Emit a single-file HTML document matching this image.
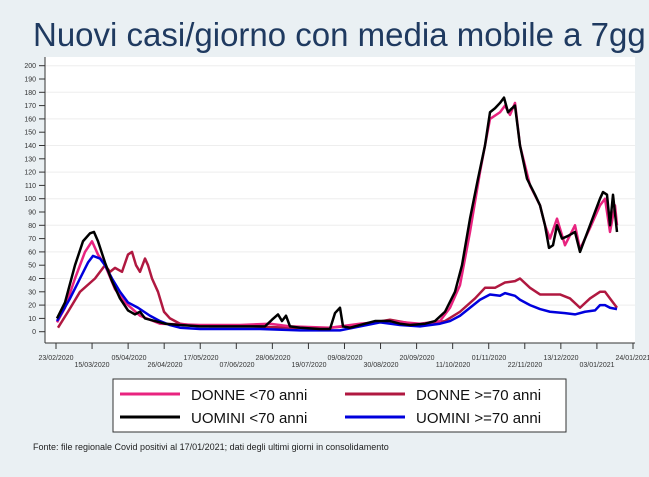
<!DOCTYPE html>
<html><head><meta charset="utf-8"><style>
body{margin:0;width:649px;height:472px;background:#eaf0f3;overflow:hidden;font-family:"Liberation Sans",sans-serif;}
</style></head><body>
<svg width="649" height="472" xmlns="http://www.w3.org/2000/svg" font-family="Liberation Sans, sans-serif">
<text x="33" y="46" font-size="33" fill="#1f3a60">Nuovi casi/giorno con media mobile a 7gg</text>
<rect x="45" y="57" width="590" height="286" fill="#fff"/>
<g stroke="#eeeeee" stroke-width="1">
<line x1="45" x2="635" y1="65.7" y2="65.7"/><line x1="45" x2="635" y1="92.3" y2="92.3"/><line x1="45" x2="635" y1="118.9" y2="118.9"/><line x1="45" x2="635" y1="145.5" y2="145.5"/><line x1="45" x2="635" y1="172.1" y2="172.1"/><line x1="45" x2="635" y1="198.7" y2="198.7"/><line x1="45" x2="635" y1="225.3" y2="225.3"/><line x1="45" x2="635" y1="251.9" y2="251.9"/><line x1="45" x2="635" y1="278.5" y2="278.5"/><line x1="45" x2="635" y1="305.1" y2="305.1"/>
</g>
<g stroke="#333" stroke-width="1">
<line x1="45" y1="57" x2="45" y2="343"/>
<line x1="45" y1="343" x2="635" y2="343"/>
</g>
<g font-size="7" fill="#333" text-anchor="end" id="yl"></g>
<g transform="translate(0,331.7) scale(1,-1.33)" fill="none" stroke-linejoin="round">
<polyline vector-effect="non-scaling-stroke" stroke="#b01840" stroke-width="2.5" points="58,3 68,15 80,30 95,40 105,50 110,45 115,48 122,45 128,58 132,60 136,50 140,45 145,55 148,50 152,40 158,30 164,15 170,10 180,6 190,5 210,4 250,4 290,3 330,3 360,5 390,9 420,5 445,8 460,15 475,25 485,33 495,33 505,37 515,38 520,40 530,33 540,28 560,28 570,25 580,18 590,25 600,30 605,30 610,25 617,18"/>
<polyline vector-effect="non-scaling-stroke" stroke="#e8237f" stroke-width="2.5" points="57,7 65,18 75,40 85,60 92,68 98,58 105,50 115,32 125,22 140,12 160,6 200,5 240,5 270,6 290,4 330,3 360,6 390,8 420,6 440,8 450,18 460,35 470,75 480,120 490,160 500,165 505,170 510,163 515,172 520,140 530,110 540,95 545,80 550,70 557,85 565,65 575,80 580,62 590,78 600,95 605,100 610,75 615,95 617,80"/>
<polyline vector-effect="non-scaling-stroke" stroke="#0000dd" stroke-width="2.5" points="57,8 70,25 80,40 88,52 93,57 100,55 105,50 112,40 120,30 128,22 138,18 150,12 160,8 170,5 180,3 200,2 260,2 300,1 340,1 360,4 380,7 400,5 420,4 440,6 450,8 460,12 470,18 480,24 490,28 500,27 505,29 515,27 520,24 530,20 540,17 550,15 565,14 575,13 585,15 595,16 600,20 605,20 610,18 617,17"/>
<polyline vector-effect="non-scaling-stroke" stroke="#000" stroke-width="2.5" points="57,10 65,22 75,50 83,68 90,74 94,75 98,68 105,52 112,38 120,25 128,16 135,13 140,15 145,10 155,8 165,6 180,5 200,4 240,4 265,4 272,9 278,13 282,8 286,12 290,4 300,3 320,2 330,2 335,14 340,18 343,4 350,3 365,6 375,8 390,8 400,6 410,5 425,6 435,8 445,15 455,30 462,50 470,85 478,115 485,140 490,165 495,168 500,172 504,176 508,165 512,168 515,170 520,140 527,115 535,103 540,95 545,80 549,63 553,65 557,80 562,70 568,72 575,75 580,60 585,70 590,80 595,90 600,100 603,105 607,103 610,80 613,103 617,75"/>
</g>
<g stroke="#333" stroke-width="1" id="xt"></g>
<g font-size="7" fill="#333" text-anchor="middle">
<text x="56" y="360">23/02/2020</text><text x="92" y="367">15/03/2020</text>
<text x="129" y="360">05/04/2020</text><text x="165" y="367">26/04/2020</text>
<text x="201" y="360">17/05/2020</text><text x="237" y="367">07/06/2020</text>
<text x="273" y="360">28/06/2020</text><text x="309" y="367">19/07/2020</text>
<text x="345" y="360">09/08/2020</text><text x="381" y="367">30/08/2020</text>
<text x="417" y="360">20/09/2020</text><text x="453" y="367">11/10/2020</text>
<text x="489" y="360">01/11/2020</text><text x="525" y="367">22/11/2020</text>
<text x="561" y="360">13/12/2020</text><text x="597" y="367">03/01/2021</text>
<text x="633" y="360">24/01/2021</text>
</g>
<rect x="113" y="379" width="453" height="53" fill="#fff" stroke="#333"/>
<line x1="120" y1="394" x2="180" y2="394" stroke="#e8237f" stroke-width="3"/>
<line x1="345" y1="394" x2="405" y2="394" stroke="#b01840" stroke-width="3"/>
<line x1="120" y1="417" x2="180" y2="417" stroke="#000" stroke-width="3"/>
<line x1="345" y1="417" x2="405" y2="417" stroke="#0000dd" stroke-width="3"/>
<g font-size="15" fill="#111">
<text x="191" y="400">DONNE &lt;70 anni</text>
<text x="416" y="400">DONNE &gt;=70 anni</text>
<text x="191" y="423">UOMINI &lt;70 anni</text>
<text x="416" y="423">UOMINI &gt;=70 anni</text>
</g>
<text x="33" y="450" font-size="9" fill="#222">Fonte: file regionale Covid positivi al 17/01/2021; dati degli ultimi giorni in consolidamento</text>
<script>
var yl=document.getElementById('yl'),ns='http://www.w3.org/2000/svg';
for(var v=0;v<=200;v+=10){var y=331.7-1.33*v;var t=document.createElementNS(ns,'text');t.setAttribute('x',36);t.setAttribute('y',y+2.5);t.textContent=v;yl.appendChild(t);
var l=document.createElementNS(ns,'line');l.setAttribute('x1',39);l.setAttribute('x2',45);l.setAttribute('y1',y);l.setAttribute('y2',y);l.setAttribute('stroke','#333');yl.appendChild(l);}
var xt=document.getElementById('xt');
for(var i=0;i<=16;i++){var x=56+i*36.06;if(i==16)x=633;var l=document.createElementNS(ns,'line');l.setAttribute('x1',x);l.setAttribute('x2',x);l.setAttribute('y1',343);l.setAttribute('y2',349);xt.appendChild(l);}
</script>
</svg>
</body></html>
